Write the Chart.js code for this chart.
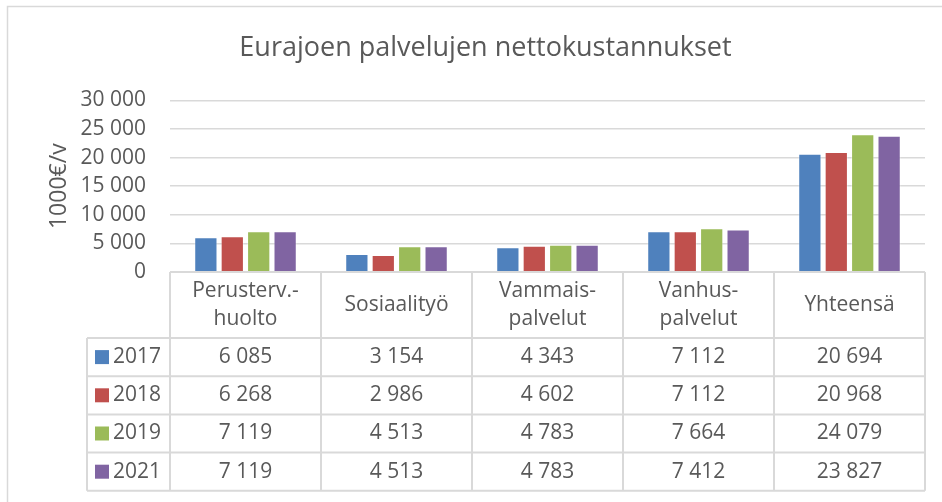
<!DOCTYPE html>
<html>
<head>
<meta charset="utf-8">
<script src="https://cdn.jsdelivr.net/npm/chart.js@4.4.0/dist/chart.umd.min.js"></script>
<style>
  html, body { margin: 0; padding: 0; background: #fff; }
  #wrap { width: 942px; height: 502px; position: relative; }
</style>
</head>
<body>
<div id="wrap"><canvas id="costChart" width="942" height="502"></canvas></div>
<script>
const categories = [["Perusterv.-", "huolto"], "Sosiaalityö", ["Vammais-", "palvelut"], ["Vanhus-", "palvelut"], "Yhteensä"];
const years = ["2017", "2018", "2019", "2021"];
const values2017 = [6085, 3154, 4343, 7112, 20694];
const values2018 = [6268, 2986, 4602, 7112, 20968];
const values2019 = [7119, 4513, 4783, 7664, 24079];
const values2021 = [7119, 4513, 4783, 7412, 23827];
const colors = ["#4F81BD", "#C0504D", "#9BBB59", "#8064A2"];

const FONT = "'Open Sans', 'Liberation Sans', sans-serif";
const TEXT = "#595959";
const LINE = "#d9d9d9";

function fmt(n) {
    return String(n).replace(/\B(?=(\d{3})+(?!\d))/g, " ");
}

// data table under the plot, drawn from the x scale positions
const dataTable = {
    id: "dataTable",
    afterDraw: function (chart) {
        const ctx = chart.ctx;
        const x = chart.scales.x;
        const area = chart.chartArea;
        const n = chart.data.labels.length;
        const half = (x.getPixelForTick(1) - x.getPixelForTick(0)) / 2;
        const edges = [];
        for (let i = 0; i < n; i++) edges.push(x.getPixelForTick(i) - half);
        edges.push(x.getPixelForTick(n - 1) + half);
        const headTop = area.bottom;
        const headBottom = headTop + 66;
        const rowH = 38.2;
        const legLeft = 87;
        const bottom = headBottom + rowH * chart.data.datasets.length;

        ctx.save();
        // outer chart border (only top/left visible in the crop)
        ctx.strokeStyle = LINE;
        ctx.lineWidth = 1.5;
        ctx.beginPath();
        ctx.moveTo(7.5, 520);
        ctx.lineTo(7.5, 6.5);
        ctx.lineTo(960, 6.5);
        ctx.stroke();

        ctx.lineWidth = 2;
        ctx.strokeStyle = LINE;
        ctx.beginPath();
        // header verticals
        edges.forEach(function (ex) {
            ctx.moveTo(ex, headTop);
            ctx.lineTo(ex, bottom);
        });
        // left legend column
        ctx.moveTo(legLeft, headBottom);
        ctx.lineTo(legLeft, bottom);
        // horizontals
        ctx.moveTo(edges[0], headTop);
        ctx.lineTo(edges[n], headTop);
        for (let r = 0; r <= chart.data.datasets.length; r++) {
            const y = headBottom + r * rowH;
            ctx.moveTo(legLeft, y);
            ctx.lineTo(edges[n], y);
        }
        ctx.stroke();

        ctx.fillStyle = TEXT;
        ctx.font = "21px " + FONT;
        ctx.textAlign = "center";
        ctx.textBaseline = "middle";
        chart.data.labels.forEach(function (lab, i) {
            const cx = (edges[i] + edges[i + 1]) / 2;
            const lines = Array.isArray(lab) ? lab : [lab];
            const mid = (headTop + headBottom) / 2;
            lines.forEach(function (t, k) {
                ctx.fillText(t, cx, mid + (k - (lines.length - 1) / 2) * 28);
            });
        });
        chart.data.datasets.forEach(function (ds, r) {
            const cy = headBottom + r * rowH + rowH / 2;
            ctx.fillStyle = ds.backgroundColor;
            ctx.fillRect(95, cy - 7, 14, 14);
            ctx.fillStyle = TEXT;
            ctx.textAlign = "left";
            ctx.fillText(ds.label, 113, cy);
            ctx.textAlign = "center";
            ds.data.forEach(function (v, i) {
                ctx.fillText(fmt(v), (edges[i] + edges[i + 1]) / 2, cy);
            });
        });
        ctx.restore();
    }
};

const seriesValues = [values2017, values2018, values2019, values2021];

new Chart(document.getElementById("costChart").getContext("2d"), {
    type: "bar",
    data: {
        labels: categories,
        datasets: years.map(function (y, i) {
            return {
                label: y,
                data: seriesValues[i],
                backgroundColor: colors[i],
                borderColor: "rgba(255,255,255,0.35)",
                borderWidth: 1,
                categoryPercentage: 0.7,
                barPercentage: 0.88,
            };
        }),
    },
    options: {
        responsive: false,
        animation: false,
        devicePixelRatio: 1,
        layout: { padding: { left: 46, right: 17, top: 0, bottom: 230 } },
        plugins: {
            legend: { display: false },
            tooltip: { enabled: false },
            title: {
                display: true,
                text: "Eurajoen palvelujen nettokustannukset",
                color: TEXT,
                font: { family: FONT, size: 27, weight: "normal" },
                padding: { top: 32, bottom: 36 },
            },
        },
        scales: {
            x: { display: false },
            y: {
                min: 0,
                max: 30000,
                afterFit: function (scale) { scale.width = 124; },
                ticks: {
                    stepSize: 5000,
                    color: TEXT,
                    padding: 24,
                    font: { family: FONT, size: 21 },
                    callback: function (v) { return fmt(v); },
                },
                grid: { color: LINE, lineWidth: 1.5, drawTicks: false },
                border: { display: false },
                title: {
                    display: true,
                    text: "1000€/v",
                    color: TEXT,
                    font: { family: FONT, size: 23 },
                    padding: 0,
                },
            },
        },
    },
    plugins: [dataTable],
});
</script>
</body>
</html>
